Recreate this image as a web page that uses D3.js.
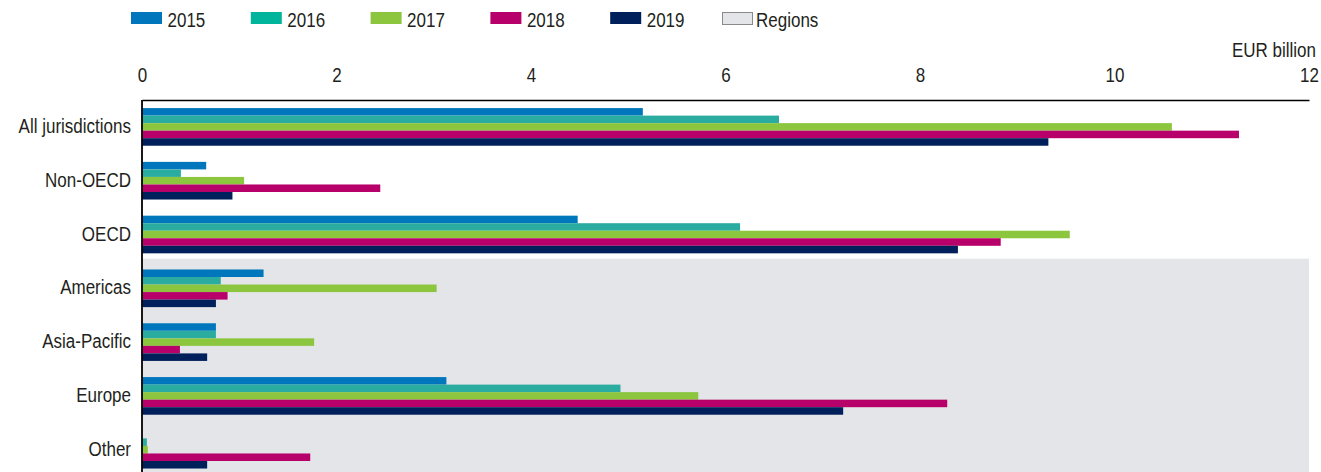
<!DOCTYPE html>
<html>
<head>
<meta charset="utf-8">
<script src="https://cdn.jsdelivr.net/npm/d3@7"></script>
<style>
  html, body { margin: 0; padding: 0; background: #fff; }
  svg text { font-family: "Liberation Sans Narrow", "Arial Narrow", "Liberation Sans", sans-serif; fill: #231f20; }
</style>
</head>
<body>
<svg id="chart" width="1321" height="472"></svg>
<script>
// Categories (top to bottom) and years
const categories = ["All jurisdictions", "Non-OECD", "OECD", "Americas", "Asia-Pacific", "Europe", "Other"];
const regionCategories = ["Americas", "Asia-Pacific", "Europe", "Other"];
const years = ["2015", "2016", "2017", "2018", "2019"];

// Values, EUR billion, one array per year in category order
const v2015 = [5.15, 0.66, 4.48, 1.25, 0.76, 3.13, 0.00];
const v2016 = [6.55, 0.40, 6.15, 0.81, 0.76, 4.92, 0.05];
const v2017 = [10.59, 1.05, 9.54, 3.03, 1.77, 5.72, 0.06];
const v2018 = [11.28, 2.45, 8.83, 0.88, 0.39, 8.28, 1.73];
const v2019 = [9.32, 0.93, 8.39, 0.76, 0.67, 7.21, 0.67];
const seriesValues = [v2015, v2016, v2017, v2018, v2019];

const xTicks = [0, 2, 4, 6, 8, 10, 12];
const unitLabel = "EUR billion";
const regionsLabel = "Regions";

const colors = ["#0077bd", "#2aaca0", "#8cc63f", "#b8006b", "#00205b"];
const legendColors = ["#0077bd", "#00b59c", "#8cc63f", "#b8006b", "#00205b"];

const svg = d3.select("#chart");
const margin = { left: 142, right: 12, top: 100 };
const width = 1321;

const x = d3.scaleLinear().domain([0, 12]).range([margin.left, width - margin.right]);
const y = d3.scaleBand().domain(categories).range([100, 476.6]).paddingInner(0.3).paddingOuter(0.15);
const yInner = d3.scaleBand().domain(years).range([0, y.bandwidth()]);

// Narrow the type horizontally so it reads like a condensed face
function condense(sel, k = 0.85) {
  sel.each(function () {
    const len = this.getComputedTextLength();
    d3.select(this).attr("textLength", len * k).attr("lengthAdjust", "spacingAndGlyphs");
  });
}

// Shaded block behind the regional breakdown
const regionTop = y(regionCategories[0]) - y.step() * 0.2;
svg.append("rect")
  .attr("x", x(0))
  .attr("y", regionTop)
  .attr("width", x(12) - x(0))
  .attr("height", 472 - regionTop)
  .attr("fill", "#e4e5e8");

// Bars
const rows = categories.map((c, i) => ({ cat: c, vals: years.map((yr, j) => ({ year: yr, j, v: seriesValues[j][i] })) }));
const groups = svg.append("g").selectAll("g").data(rows).join("g")
  .attr("transform", d => `translate(0,${y(d.cat)})`);
groups.selectAll("rect").data(d => d.vals).join("rect")
  .attr("x", x(0))
  .attr("y", d => yInner(d.year))
  .attr("width", d => x(d.v) - x(0))
  .attr("height", yInner.bandwidth())
  .attr("fill", d => colors[d.j]);

// Top axis with tick labels, no tick marks
const xAxis = d3.axisTop(x).tickValues(xTicks).tickSize(0).tickPadding(18).tickFormat(d3.format("d"));
const gx = svg.append("g").attr("transform", `translate(0,${margin.top})`).call(xAxis);
gx.select(".domain").attr("stroke", "#000").attr("stroke-width", 1.6);
gx.selectAll("text").attr("font-size", 20).attr("font-family", null).style("fill", "#231f20").call(condense);

// Left axis line and category labels
const yAxis = d3.axisLeft(y).tickSize(0).tickPadding(11);
const gy = svg.append("g").attr("transform", `translate(${x(0)},0)`).call(yAxis);
gy.select(".domain").remove();
gy.selectAll("text").attr("font-size", 20).attr("font-family", null).attr("dy", "0.3em").style("fill", "#231f20").call(condense);
svg.append("line")
  .attr("x1", x(0)).attr("x2", x(0))
  .attr("y1", margin.top).attr("y2", 472)
  .attr("stroke", "#000").attr("stroke-width", 1.8);

// Unit label, right-aligned above the last tick
svg.append("g")
  .attr("transform", "translate(1316,57) scale(0.85,1)")
  .append("text")
  .attr("x", 0).attr("y", 0)
  .attr("text-anchor", "end")
  .attr("font-size", 20)
  .text(unitLabel);

// Legend
const legendItems = years.map((yr, j) => ({ label: yr, fill: legendColors[j], stroke: "none", x: 131 + j * 119.8 }))
  .concat([{ label: regionsLabel, fill: "#e4e5e8", stroke: "#8a8a8a", x: 722 }]);
const lg = svg.append("g").selectAll("g").data(legendItems).join("g")
  .attr("transform", d => `translate(${d.x},12)`);
lg.append("rect")
  .attr("x", d => d.stroke === "none" ? 0 : 0.5)
  .attr("y", d => d.stroke === "none" ? 0 : 0.5)
  .attr("width", d => d.stroke === "none" ? 31 : 30)
  .attr("height", 12)
  .attr("fill", d => d.fill)
  .attr("stroke", d => d.stroke)
  .attr("stroke-width", 1);
lg.append("text")
  .attr("x", d => d.stroke === "none" ? 36.5 : 34)
  .attr("y", 14.7)
  .attr("font-size", 20)
  .text(d => d.label)
  .call(condense);
</script>
</body>
</html>
